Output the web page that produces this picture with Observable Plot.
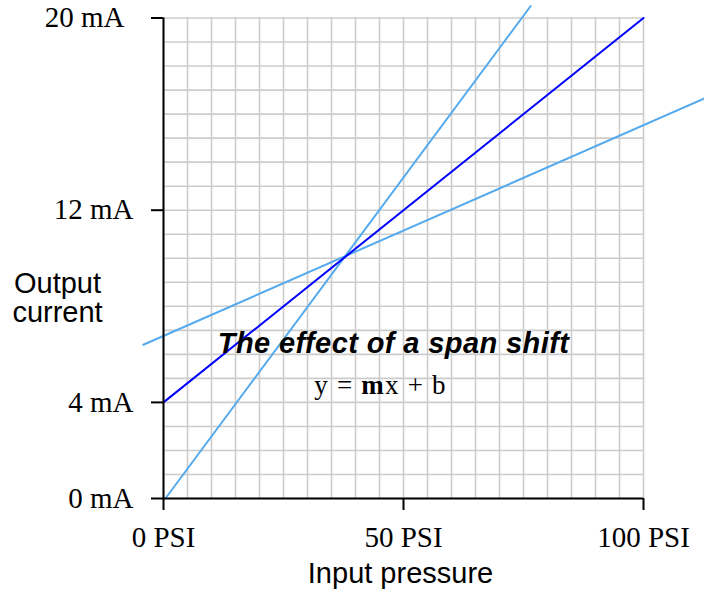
<!DOCTYPE html>
<html>
<head>
<meta charset="utf-8">
<script src="https://cdn.jsdelivr.net/npm/d3@7"></script>
<script src="https://cdn.jsdelivr.net/npm/@observablehq/plot@0.6"></script>
<style>
  html, body { margin: 0; padding: 0; background: #fff; }
  #chart svg { display: block; }
</style>
</head>
<body>
<div id="chart"></div>
<script>
// Tick values and labels
const xTicks = [0, 50, 100];
const yTicksMain = [0, 4, 12];
const yTicksTop = [20];
const xUnit = "PSI";
const yUnit = "mA";

// Line end points (input pressure in PSI, output current in mA)
const seriesNames = ["shallow", "steep", "nominal"];
const shallowPSI = [-4.2, 112.7];
const shallowMA = [6.4, 16.65];
const steepPSI = [0.4, 76.5];
const steepMA = [0, 20.5];
const nominalPSI = [0, 100];
const nominalMA = [4, 20];

// Texts
const yLabel = "Output\ncurrent";
const xLabel = "Input pressure";
const title = "The effect of a span shift";
const equation = "y = mx + b";

const rows = [];
[[shallowPSI, shallowMA], [steepPSI, steepMA], [nominalPSI, nominalMA]].forEach(([px, my], i) => {
  px.forEach((p, j) => rows.push({series: seriesNames[i], psi: p, ma: my[j]}));
});

const serif = "Liberation Serif, Times New Roman, serif";
const sans = "Liberation Sans, Arial, Helvetica, sans-serif";

const chart = Plot.plot({
  width: 704,
  height: 594,
  marginLeft: 163,
  marginRight: 61,
  marginTop: 17.5,
  marginBottom: 96,
  style: {background: "#fff", color: "#000", overflow: "visible"},
  x: {domain: [0, 100]},
  y: {domain: [0, 20]},
  color: {domain: seriesNames, range: ["#55aaee", "#55aaee", "#0000ff"]},
  marks: [
    Plot.gridX({ticks: 20, stroke: "#cccccc", strokeOpacity: 1, strokeWidth: 1.6}),
    Plot.gridY({ticks: 20, stroke: "#cccccc", strokeOpacity: 1, strokeWidth: 1.6}),
    Plot.line(rows, {x: "psi", y: "ma", z: "series", stroke: "series", strokeWidth: 2, clip: false}),
    Plot.ruleX([0], {stroke: "#000", strokeWidth: 2}),
    Plot.ruleY([0], {stroke: "#000", strokeWidth: 2}),
    Plot.axisX({ticks: xTicks, tickSize: 12, tickPadding: 16, tickFormat: d => `${d} ${xUnit}`,
      fontSize: 29, fontFamily: serif, stroke: "#000", strokeWidth: 2, label: null}),
    Plot.axisY({ticks: yTicksMain, tickSize: 12, tickPadding: 18, tickFormat: d => `${d} ${yUnit}`,
      fontSize: 29, fontFamily: serif, stroke: "#000", strokeWidth: 2, label: null}),
    Plot.axisY({ticks: yTicksTop, tickSize: 12, tickPadding: 27, tickFormat: d => `${d} ${yUnit}`,
      fontSize: 29, fontFamily: serif, stroke: "#000", strokeWidth: 2, label: null}),
    Plot.text([yLabel], {frameAnchor: "left", textAnchor: "middle", lineAnchor: "bottom",
      dx: -106, dy: 64, lineHeight: 1, fontSize: 29, fontFamily: sans, fill: "#000"}),
    Plot.text([xLabel], {frameAnchor: "bottom", lineAnchor: "bottom", dx: -3, dy: 84,
      fontSize: 29, fontFamily: sans, fill: "#000"}),
    Plot.text([title], {frameAnchor: "middle", lineAnchor: "bottom", dx: -10, dy: 95,
      fontSize: 29, fontFamily: sans, fontWeight: "bold", fontStyle: "italic", fill: "#000"}),
    Plot.text([equation], {frameAnchor: "middle", lineAnchor: "bottom", dx: -23, dy: 136,
      fontSize: 27, fontFamily: serif, fill: "#000"})
  ]
});

// Title letter spacing and bold "m" in the equation
const NS = "http://www.w3.org/2000/svg";
chart.querySelectorAll("text").forEach(t => {
  if (t.textContent === title) t.setAttribute("letter-spacing", "0.4");
  if (t.textContent === equation) {
    t.setAttribute("letter-spacing", "1.2");
    t.textContent = "";
    [["y = ", "normal"], ["m", "bold"], ["x + b", "normal"]].forEach(([s, w]) => {
      const ts = document.createElementNS(NS, "tspan");
      ts.setAttribute("font-weight", w);
      ts.textContent = s;
      t.appendChild(ts);
    });
  }
});

document.getElementById("chart").appendChild(chart);
</script>
</body>
</html>
